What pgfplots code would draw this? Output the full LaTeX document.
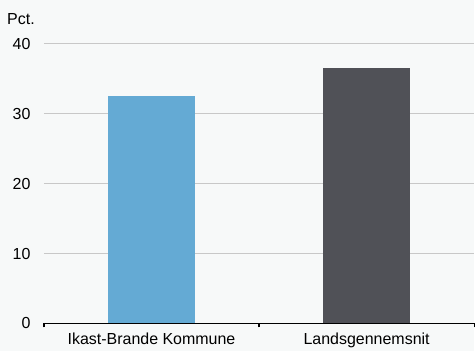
\documentclass[border=0pt]{standalone}
\usepackage{pgfplots}
\pgfplotsset{compat=1.18}
\usepackage{fontspec}
\setmainfont{Liberation Sans}
\usetikzlibrary{backgrounds,calc}
\definecolor{bg}{HTML}{F7F9F9}
\definecolor{barblue}{HTML}{64AAD4}
\definecolor{bardark}{HTML}{505157}
\definecolor{gridgray}{HTML}{C8C8C8}
\begin{document}
\begin{tikzpicture}
\begin{axis}[
  name=ax,
  scale only axis,
  width=431bp, height=280bp,
  xmin=-0.5, xmax=1.5,
  ymin=0, ymax=40,
  axis x line*=bottom,
  axis y line*=left,
  y axis line style={draw=none},
  x axis line style={line width=1.6bp, black},
  xtick={0,1},
  xticklabels={Ikast-Brande Kommune, Landsgennemsnit},
  minor xtick={-0.5,0.5,1.5},
  tick align=outside,
  major tick length=0pt,
  minor tick length=4bp,
  minor tick style={line width=1.2bp, black},
  ytick={0,10,...,40},
  ymajorgrids,
  grid style={gridgray, line width=0.9bp},
  font=\fontsize{16bp}{19bp}\selectfont,
  /pgf/number format/assume math mode=true,
  yticklabel style={anchor=east, xshift=-10bp},
  xticklabel style={anchor=north, yshift=-6bp},
  ybar, bar width=87bp, bar shift=0pt,
  clip=false,
]
\addplot[fill=barblue, draw=none] coordinates {(0,32.5)};
\addplot[fill=bardark, draw=none] coordinates {(1,36.5)};
\end{axis}
\node[anchor=base west, inner sep=0pt, font=\fontsize{16bp}{19bp}\selectfont]
  at ($(ax.north west)+(-37bp,19bp)$) {Pct.};
\begin{scope}[on background layer]
\fill[bg] ($(ax.south west)+(-44bp,-28bp)$) rectangle ($(ax.north east)+(0,44bp)$);
\end{scope}
\path[use as bounding box] ($(ax.south west)+(-44bp,-28bp)$) rectangle ($(ax.north east)+(0,44bp)$);
\end{tikzpicture}
\end{document}
